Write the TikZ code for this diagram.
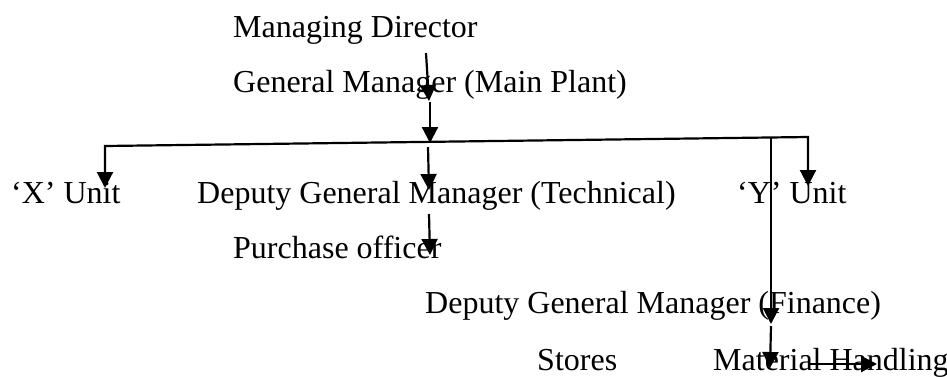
\documentclass[tikz,border=0pt]{standalone}
\usepackage{fontspec}
\setmainfont{Liberation Serif}
\usetikzlibrary{arrows.meta}
\begin{document}
\begin{tikzpicture}[x=1pt,y=-1pt,
  lbl/.style={anchor=base west,inner sep=0pt,font=\fontsize{32}{38}\selectfont},
  tip/.tip={Triangle[width=16pt,length=16pt]},
  conn/.style={line width=2.2pt,-tip},
  plain/.style={line width=2.2pt}]
\useasboundingbox (0,0) rectangle (947,376);
% texts
\node[lbl] (md) at (233,37) {Managing Director};
\node[lbl] (gm) at (233,92) {General Manager (Main Plant)};
\node[lbl] (xu) at (11,203) {‘X’ Unit};
\node[lbl] (dgmt) at (197,203) {Deputy General Manager (Technical)};
\node[lbl] (yu) at (737,203) {‘Y’ Unit};
\node[lbl] (po) at (233,258) {Purchase officer};
\node[lbl] (dgmf) at (425,313) {Deputy General Manager (Finance)};
\node[lbl] (st) at (537,370) {Stores};
\node[lbl] (mh) at (713,370) {Material Handling};
% coordinates
\coordinate (a1) at (426,53);
\coordinate (a2) at (429,101);
\coordinate (b1) at (430,102);
\coordinate (b2) at (430,143);
\coordinate (hl) at (105,146);
\coordinate (hr) at (808,137);
\coordinate (xl) at (105,188);
\coordinate (yr) at (808,186);
\coordinate (c1) at (428,147);
\coordinate (c2) at (429,190);
\coordinate (d1) at (429,214);
\coordinate (d2) at (430,255);
\coordinate (v1) at (771,137);
\coordinate (v2) at (771,324);
\coordinate (v3) at (771,326);
\coordinate (v4) at (770,368);
\coordinate (h1) at (810,364);
\coordinate (h2) at (877,364);
% connectors
\draw[conn] (a1) -- (a2);
\draw[conn] (b1) -- (b2);
\draw[plain,tip-tip,line join=miter] (xl) -- (hl) -- (hr) -- (yr);
\draw[conn] (c1) -- (c2);
\draw[conn] (d1) -- (d2);
\draw[conn] (v1) -- (v2);
\draw[conn] (v3) -- (v4);
\draw[conn] (h1) -- (h2);
\end{tikzpicture}
\end{document}
